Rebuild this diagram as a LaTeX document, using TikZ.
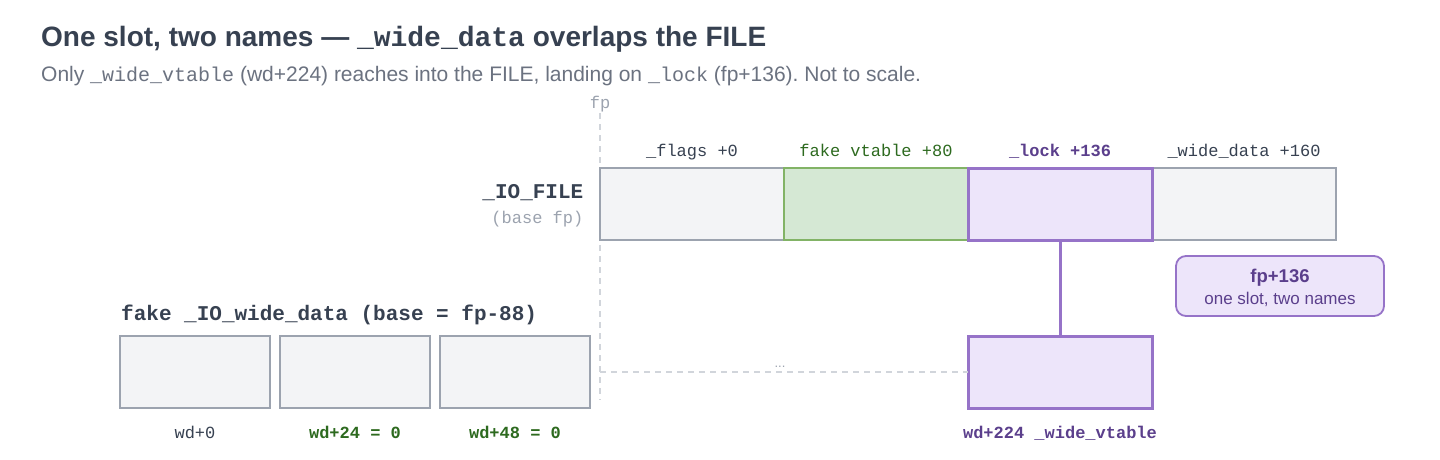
\documentclass[tikz,border=0pt]{standalone}
\usepackage{fontspec}
\setmainfont{Liberation Sans}
\setmonofont{Liberation Mono}
\frenchspacing
\definecolor{ink}{HTML}{374151}
\definecolor{muted}{HTML}{6B7280}
\definecolor{lightink}{HTML}{9CA3AF}
\definecolor{dashc}{HTML}{D1D5DB}
\definecolor{cellfill}{HTML}{F3F4F6}
\definecolor{cellstroke}{HTML}{9CA3AF}
\definecolor{greenfill}{HTML}{D5E8D4}
\definecolor{greenstroke}{HTML}{82B366}
\definecolor{greentext}{HTML}{2D6A1F}
\definecolor{purplefill}{HTML}{EDE5FA}
\definecolor{purplestroke}{HTML}{9673C8}
\definecolor{purpletext}{HTML}{5B3F8C}
\newcommand{\fsz}[1]{\fontsize{#1}{#1}\selectfont}
\begin{document}
\begin{tikzpicture}[x=1pt,y=-1pt,
  cellbox/.style={draw=cellstroke, fill=cellfill, line width=2pt, inner sep=0pt, outer sep=0pt, anchor=north west, minimum height=72pt},
  wide184/.style={minimum width=184pt},
  wide150/.style={minimum width=150pt},
  greencell/.style={cellbox, wide184, draw=greenstroke, fill=greenfill, line width=1.5pt},
  purplecell/.style={cellbox, wide184, draw=purplestroke, fill=purplefill, line width=3pt},
  toplabel/.style={anchor=base, inner sep=0pt, font=\ttfamily\fsz{17}},
  botlabel/.style={anchor=base, inner sep=0pt, font=\ttfamily\fsz{17}},
  guideline/.style={draw=dashc, line width=1.5pt, dash pattern=on 6pt off 5pt},
  linkline/.style={draw=purplestroke, line width=3pt},
  callout/.style={draw=purplestroke, fill=purplefill, line width=1.8pt, rounded corners=10pt, anchor=north west, minimum width=208pt, minimum height=60pt, inner sep=0pt, outer sep=0pt}
]
\useasboundingbox (0,0) rectangle (1440,460);
\fill[white] (0,0) rectangle (1440,460);

% title and subtitle
\node[anchor=base west, inner sep=0pt, text=ink, font=\bfseries\fsz{28}] (title) at (41,46.5)
  {One slot, two names — \texttt{\_wide\_data} overlaps the FILE};
\node[anchor=base west, inner sep=0pt, text=muted, font=\fsz{21}] (subtitle) at (41,81.5)
  {Only \texttt{\fsz{20}\_wide\_vtable} (wd+224) reaches into the FILE, landing on \texttt{\fsz{20}\_lock} (fp+136). Not to scale.};

% fp guide
\node[anchor=base, inner sep=0pt, text=lightink, font=\ttfamily\fsz{17}] (fplabel) at (600,108) {fp};
\coordinate (fptop) at (600,113);
\coordinate (fpbot) at (600,400);
\coordinate (fpmid) at (600,372);
\draw[guideline] (fptop) -- (fpbot);

% _IO_FILE row
\node[cellbox, wide184] (flags) at (600,168) {};
\node[greencell] (vt) at (784,168) {};
\node[cellbox, wide184] (wide) at (1152,168) {};
\node[purplecell] (lock) at (968,168) {};

\node[toplabel, text=ink] (lflags) at (692,156) {\_flags +0};
\node[toplabel, text=greentext] (lvt) at (876,156) {fake vtable +80};
\node[toplabel, text=purpletext, font=\ttfamily\bfseries\fsz{17}] (llock) at (1060,156) {\_lock +136};
\node[toplabel, text=ink] (lwide) at (1244,156) {\_wide\_data +160};

\node[anchor=base east, inner sep=0pt, text=ink, font=\ttfamily\bfseries\fsz{21}] (iofile) at (583.5,198) {\_IO\_FILE};
\node[anchor=base east, inner sep=0pt, text=lightink, font=\ttfamily\fsz{17}] (basefp) at (583.5,223) {(base fp)};

% callout
\node[callout] (note) at (1176,256) {};
\node[anchor=base, inner sep=0pt, text=purpletext, font=\bfseries\fsz{18.5}] (notea) at (1280,282.5) {fp+136};
\node[anchor=base, inner sep=0pt, text=purpletext, font=\fsz{17}] (noteb) at (1280,304) {one slot, two names};

% fake _IO_wide_data
\node[anchor=base west, inner sep=0pt, text=ink, font=\ttfamily\bfseries\fsz{21}] (wdtitle) at (121,320) {fake \_IO\_wide\_data (base = fp-88)};
\node[cellbox, wide150] (w0) at (120,336) {};
\node[cellbox, wide150] (w24) at (280,336) {};
\node[cellbox, wide150] (w48) at (440,336) {};
\node[purplecell] (vtab) at (968,336) {};

\node[botlabel, text=ink] (lw0) at (195,438) {wd+0};
\node[botlabel, text=greentext, font=\ttfamily\bfseries\fsz{17}] (lw24) at (355,438) {wd+24 = 0};
\node[botlabel, text=greentext, font=\ttfamily\bfseries\fsz{17}] (lw48) at (515,438) {wd+48 = 0};
\node[botlabel, text=purpletext, font=\ttfamily\bfseries\fsz{17}] (lvtab) at (1060,438) {wd+224 \_wide\_vtable};

% gap and link
\draw[guideline] (fpmid) -- (vtab.west);
\node[anchor=base, inner sep=0pt, text=lightink, font=\fsz{13}] (gapdots) at (780,367) {...};
\draw[linkline] (lock.south) -- (vtab.north);
\end{tikzpicture}
\end{document}
